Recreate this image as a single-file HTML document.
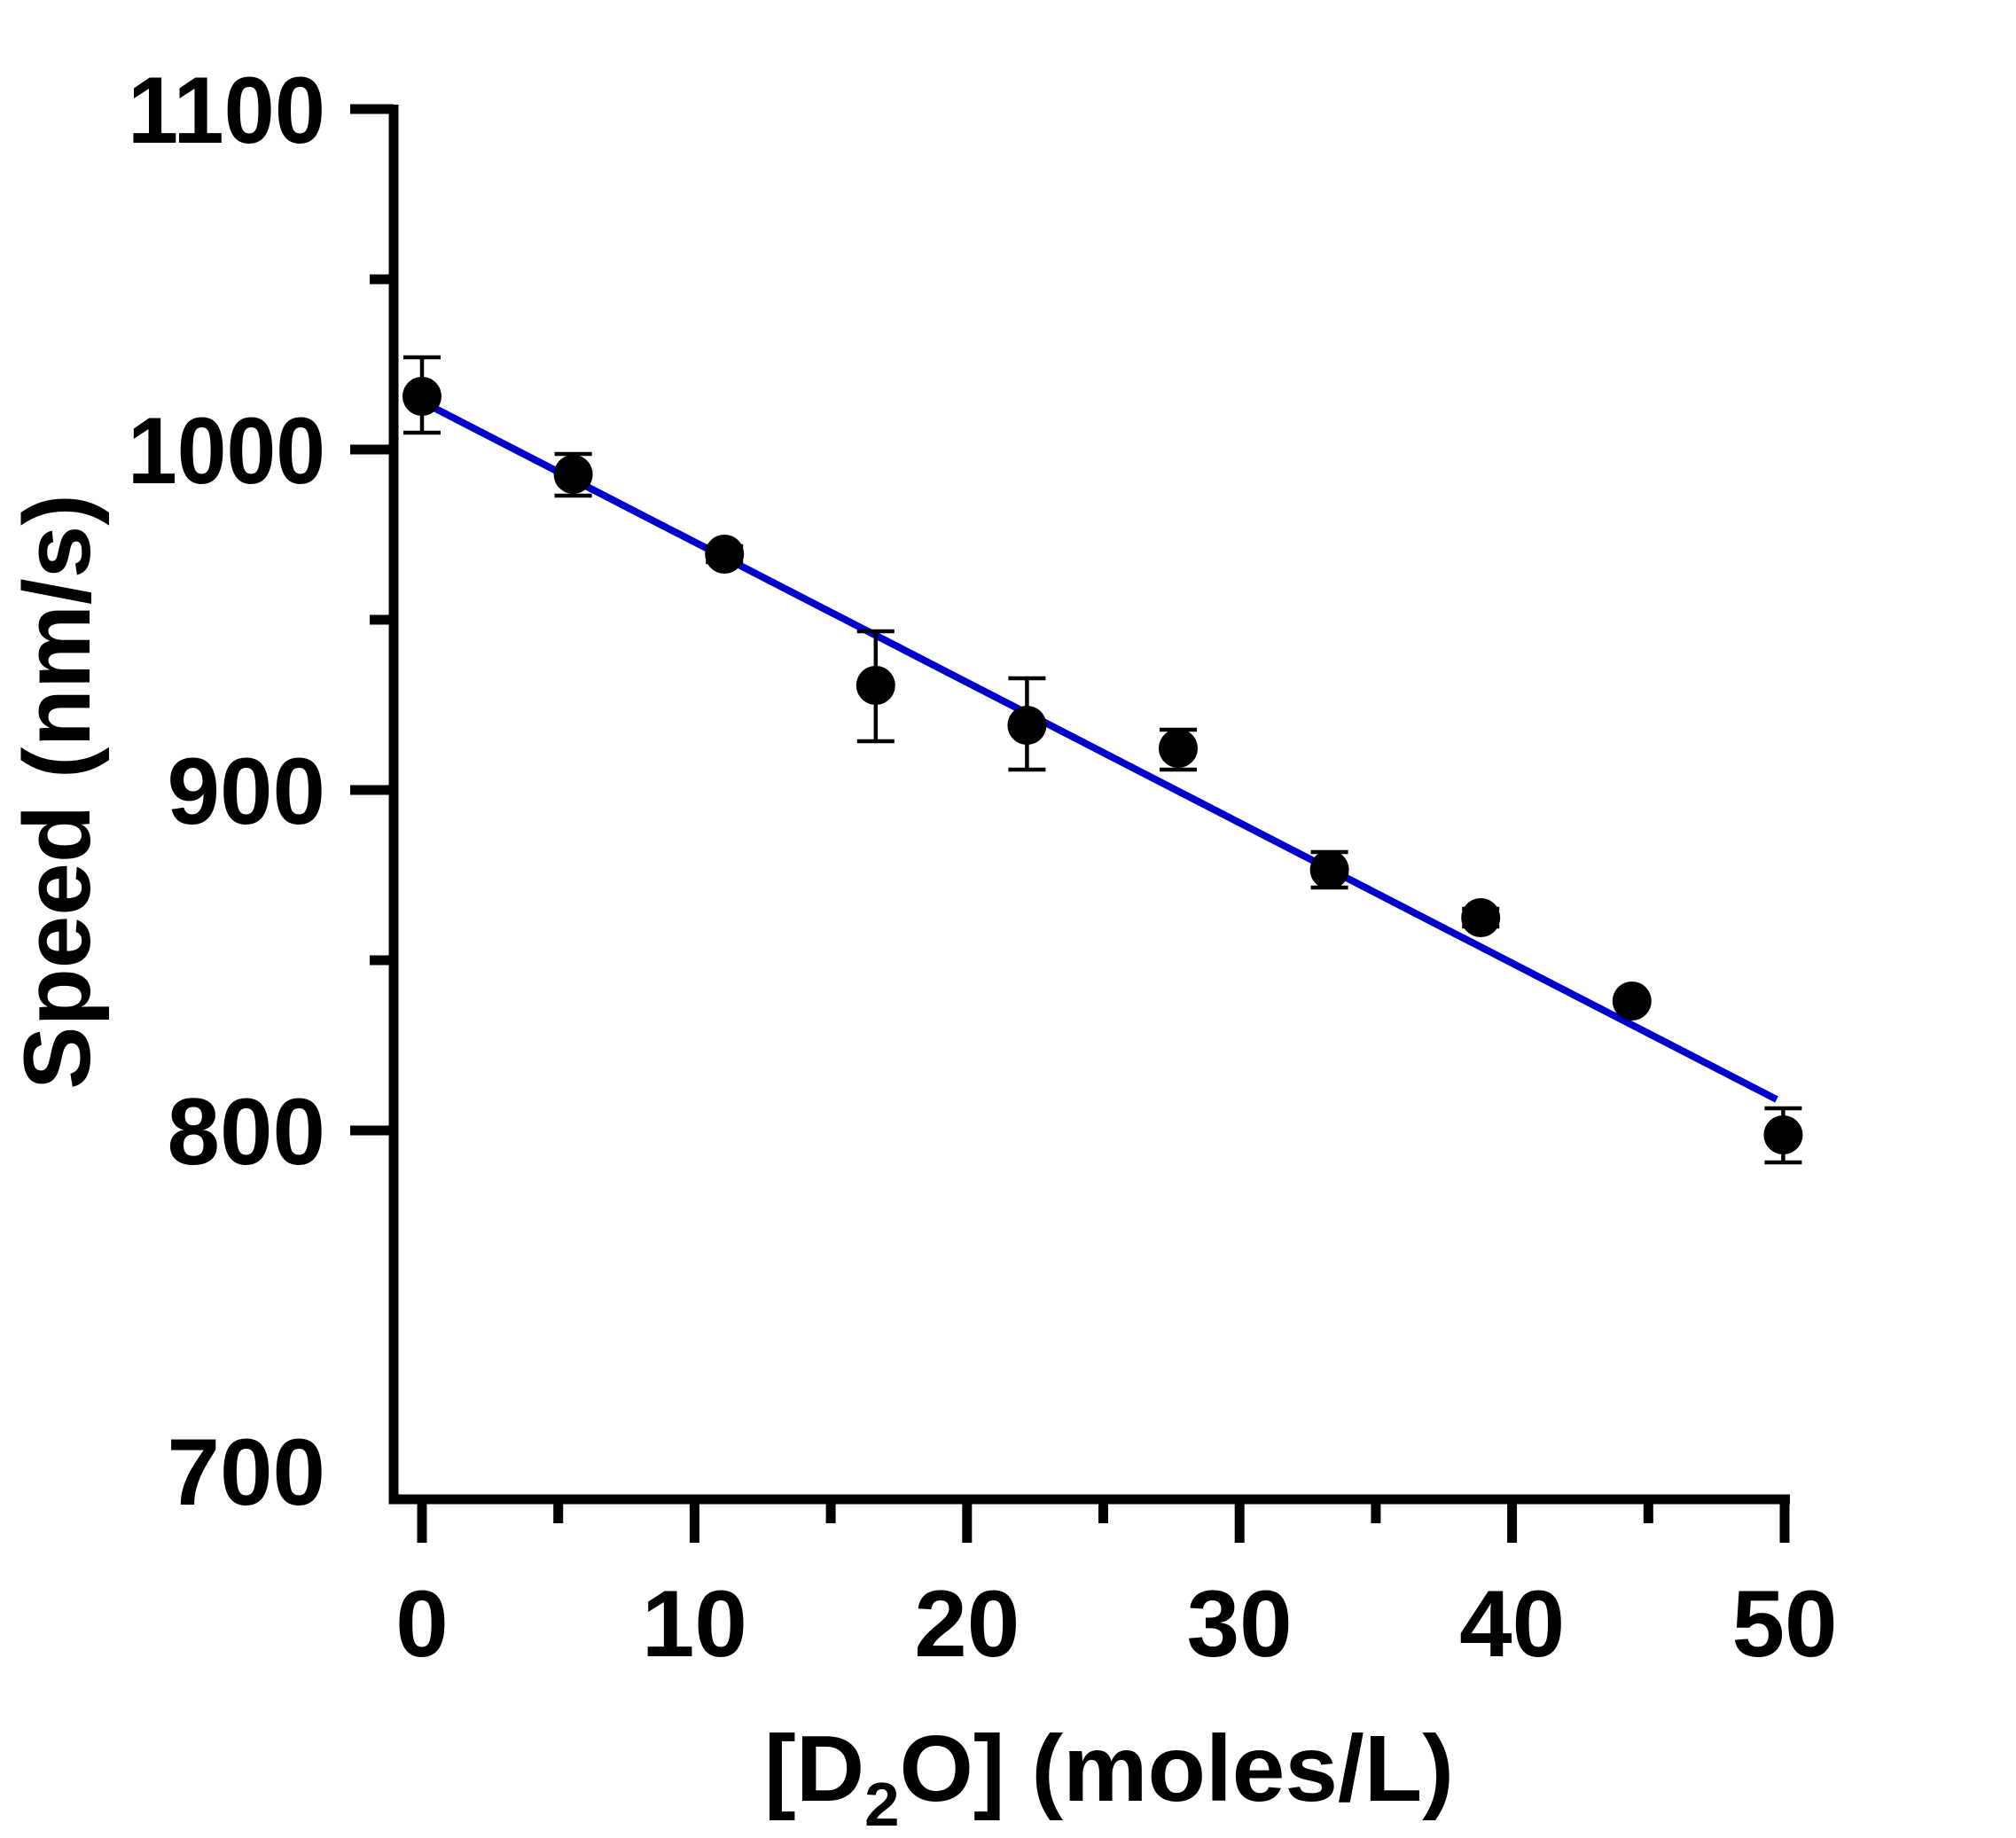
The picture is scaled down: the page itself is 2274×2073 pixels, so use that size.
<!DOCTYPE html>
<html><head><meta charset="utf-8"><style>html,body{margin:0;padding:0;background:#fff}svg{display:block}</style></head><body>
<svg width="2274" height="2073" viewBox="0 0 2274 2073" xmlns="http://www.w3.org/2000/svg" font-family="'Liberation Sans',Arial,sans-serif" font-weight="bold">
<rect width="2274" height="2073" fill="#fff"/>
<g stroke="#000" stroke-width="11" fill="none">
<path d="M444 118 V1691 H2019"/>
<path d="M395 123 H444 M395 507 H444 M395 891 H444 M395 1275 H444 M417 315 H444 M417 699 H444 M417 1083 H444"/>
<path d="M476 1691 V1740 M783.4 1691 V1740 M1090.8 1691 V1740 M1398.2 1691 V1740 M1705.6 1691 V1740 M2013 1691 V1740"/>
<path d="M629.7 1691 V1718 M937.1 1691 V1718 M1244.5 1691 V1718 M1551.9 1691 V1718 M1859.3 1691 V1718"/>
</g>
<line x1="476" y1="453" x2="2004" y2="1240" stroke="#0000cc" stroke-width="8"/>
<g stroke="#000" stroke-width="4.5">
<path d="M476 403 V488 M455 403 H497 M455 488 H497"/>
<path d="M646.6 512 V559 M625.6 512 H667.6 M625.6 559 H667.6"/>
<path d="M817.2 616 V634 M796.2 616 H838.2 M796.2 634 H838.2"/>
<path d="M987.8 712 V836 M966.8 712 H1008.8 M966.8 836 H1008.8"/>
<path d="M1158.4 765 V868 M1137.4 765 H1179.4 M1137.4 868 H1179.4"/>
<path d="M1329 823 V868 M1308 823 H1350 M1308 868 H1350"/>
<path d="M1499.6 961 V1001 M1478.6 961 H1520.6 M1478.6 1001 H1520.6"/>
<path d="M1670.2 1025 V1045 M1649.2 1025 H1691.2 M1649.2 1045 H1691.2"/>
<path d="M2011.4 1250 V1311 M1990.4 1250 H2032.4 M1990.4 1311 H2032.4"/>
</g>
<g fill="#000">
<circle cx="476" cy="447" r="22"/><circle cx="646.6" cy="535" r="22"/><circle cx="817.2" cy="625" r="22"/>
<circle cx="987.8" cy="773" r="22"/><circle cx="1158.4" cy="818" r="22"/><circle cx="1329" cy="844" r="22"/>
<circle cx="1499.6" cy="981" r="22"/><circle cx="1670.2" cy="1035" r="22"/><circle cx="1840.8" cy="1129" r="22"/>
<circle cx="2011.4" cy="1280" r="22"/>
</g>
<g font-size="107" fill="#000">
<text x="144" y="161" textLength="223" lengthAdjust="spacingAndGlyphs">1100</text>
<text x="144" y="545" textLength="223" lengthAdjust="spacingAndGlyphs">1000</text>
</g>
<g font-size="107" text-anchor="end" fill="#000">
<text x="367" y="929">900</text><text x="367" y="1313">800</text><text x="367" y="1697">700</text>
</g>
<g font-size="107" text-anchor="middle" fill="#000">
<text x="476" y="1868">0</text><text x="783.4" y="1868">10</text><text x="1090.8" y="1868">20</text><text x="1398.2" y="1868">30</text><text x="1705.6" y="1868">40</text><text x="2013" y="1868">50</text>
</g>
<text x="862" y="2031" font-size="106" fill="#000" textLength="778" lengthAdjust="spacingAndGlyphs">[D<tspan font-size="70" dy="28">2</tspan><tspan dy="-28">O] (moles/L)</tspan></text>
<text transform="translate(101,893) rotate(-90)" font-size="107" text-anchor="middle" fill="#000">Speed (nm/s)</text>
</svg>
</body></html>
